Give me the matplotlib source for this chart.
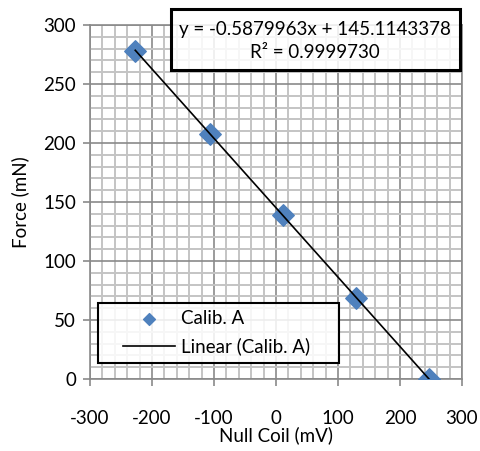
import numpy as np
import matplotlib.pyplot as plt
from matplotlib.ticker import MultipleLocator
from matplotlib.patches import Rectangle

# data
null_coil = [-227, -107, 11, 129, 247]
force = [278, 208, 139, 69, 0]
slope = -0.5879963
intercept = 145.1143378
eq_text = "y = -0.5879963x + 145.1143378\nR² = 0.9999730"

W, H = 480, 451
plt.rcParams['font.family'] = ['Lato', 'DejaVu Sans']
plt.rcParams['font.size'] = 13.5
plt.rcParams['axes.unicode_minus'] = False

fig = plt.figure(figsize=(W / 100, H / 100), dpi=100)
ax = fig.add_axes([90 / W, 1 - 379 / H, 372 / W, 354 / H])

ax.set_xlim(-300, 300)
ax.set_ylim(0, 300)
ax.xaxis.set_major_locator(MultipleLocator(100))
ax.xaxis.set_minor_locator(MultipleLocator(20))
ax.yaxis.set_major_locator(MultipleLocator(50))
ax.yaxis.set_minor_locator(MultipleLocator(10))
ax.grid(which='minor', color='#c4c4c4', lw=1.4, zorder=0)
ax.grid(which='major', color='#8a8a8a', lw=1.2, zorder=0)
ax.set_axisbelow(True)
for s in ax.spines.values():
    s.set_color('#8a8a8a')
    s.set_linewidth(1.2)
ax.tick_params(which='major', direction='out', length=5, color='#8a8a8a', width=1.2, labelsize=13.5, pad=17)
ax.tick_params(axis='y', pad=5)
ax.tick_params(which='minor', length=0)

xs = np.array([min(null_coil), max(null_coil)])
ax.scatter(null_coil, force, marker='D', s=120, color='#4F81BD', zorder=3, label='Calib. A')
ax.plot(xs, slope * xs + intercept, color='black', lw=1.2, zorder=4, label='Linear (Calib. A)')

ax.set_xlabel('Null Coil (mV)', fontsize=13.5, labelpad=0)
ax.set_ylabel('Force (mN)', fontsize=13.5, labelpad=10)


def box(x0, y0, x1, y1, lw):
    # box given in figure pixels from the top left
    kw = dict(transform=fig.transFigure, clip_on=False)
    xy = (x0 / W, 1 - y1 / H)
    w, h = (x1 - x0) / W, (y1 - y0) / H
    ax.add_patch(Rectangle(xy, w, h, fc='white', alpha=0.85, ec='none', zorder=5, **kw))
    ax.add_patch(Rectangle(xy, w, h, fc='none', ec='black', lw=lw, zorder=6, **kw))


# legend box
box(98, 303, 339, 363, 1.5)
leg = ax.legend(loc='center left', bbox_to_anchor=(123 / W, 1 - 333 / H), bbox_transform=fig.transFigure,
                frameon=False, fontsize=13.5, handlelength=2.8, markerscale=0.55,
                borderpad=0, labelspacing=0.55, handletextpad=0.3, borderaxespad=0)
leg.set_zorder(7)

# equation box
box(171, 9, 460, 70, 2.2)
ax.text(315 / W, 1 - 41 / H, eq_text, transform=fig.transFigure, ha='center', va='center',
        fontsize=13.5, linespacing=1.45, zorder=7, clip_on=False)

fig.savefig('out.png')
